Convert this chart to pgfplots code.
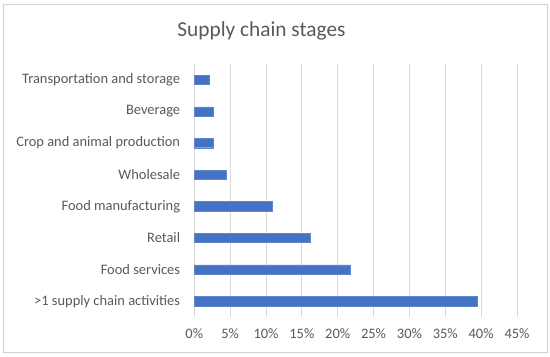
\documentclass[border=0pt]{standalone}
\usepackage{fontspec}
\setmainfont{Carlito}
\usepackage{pgfplots}
\pgfplotsset{compat=1.18}
\definecolor{barblue}{HTML}{4472C4}
\definecolor{txtgray}{HTML}{595959}
\definecolor{gridgray}{HTML}{D9D9D9}
\definecolor{bordergray}{HTML}{D0D0D0}
\begin{document}
\begin{tikzpicture}[x=1bp,y=1bp]
\path[use as bounding box] (0,0) rectangle (550,356);
\draw[bordergray, line width=0.8bp] (3.3,3.5) rectangle (547,352);
\node[text=txtgray, font=\fontsize{21.4}{24}\selectfont, anchor=base] at (261.5,319.5) {Supply chain stages};
\begin{axis}[
  at={(194.3bp,39bp)}, anchor=south west,
  scale only axis, width=322.7bp, height=253bp,
  xbar, bar width=9.3bp,
  xmin=0, xmax=45, ymin=-0.5, ymax=7.5,
  xtick={0,5,...,45},
  xticklabels={0\%,5\%,10\%,15\%,20\%,25\%,30\%,35\%,40\%,45\%},
  ytick={0,...,7},
  yticklabels={>1 supply chain activities,Food services,Retail,Food manufacturing,Wholesale,Crop and animal production,Beverage,Transportation and storage},
  xmajorgrids=true, major grid style={gridgray, line width=0.8bp},
  axis x line*=bottom,
  axis y line*=left,
  x axis line style={draw=none},
  y axis line style={gridgray, line width=0.8bp},
  major tick length=0pt,
  tick label style={text=txtgray, font=\fontsize{14.5}{16}\selectfont},
  yticklabel style={inner sep=0pt, xshift=-14bp},
  xticklabel style={inner sep=0pt, yshift=-11bp},
  clip=false,
]
\addplot[fill=barblue, draw=barblue!85!white, line width=0.4bp] coordinates {
(39.5,0) (21.7,1) (16.1,2) (10.9,3) (4.5,4) (2.6,5) (2.6,6) (2.1,7)};
\end{axis}
\end{tikzpicture}
\end{document}
